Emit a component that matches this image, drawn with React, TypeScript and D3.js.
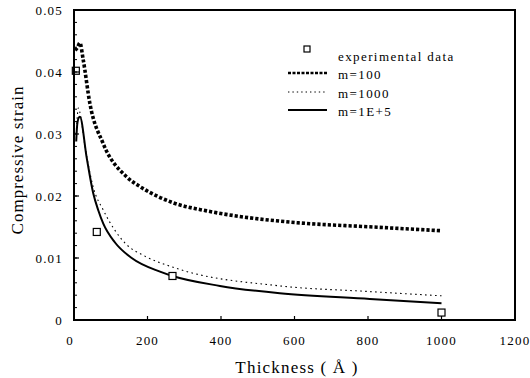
import React from "react";
import * as d3 from "d3";

const expThickness = [5, 62, 268, 1000];
const expStrain = [0.0402, 0.0142, 0.0071, 0.0012];

const m100Thickness = [3, 10, 16, 25, 43, 79, 143, 180, 229, 270, 361, 451, 606, 814, 1000];
const m100Strain = [0.0435, 0.044, 0.0447, 0.042, 0.035, 0.0285, 0.0231, 0.0215, 0.0199, 0.0189, 0.0176, 0.0167, 0.0157, 0.015, 0.0144];

const m1000Thickness = [6, 12, 16, 30, 52, 80, 139, 193, 270, 560, 800, 1000];
const m1000Strain = [0.03, 0.0342, 0.0335, 0.028, 0.0215, 0.0177, 0.0124, 0.0103, 0.0085, 0.0055, 0.0046, 0.0039];

const m1e5Thickness = [6, 8, 12, 16, 34.5, 52.5, 66, 80, 111.5, 157, 234, 268, 397, 560, 805, 1000];
const m1e5Strain = [0.0288, 0.031, 0.0325, 0.0328, 0.0262, 0.0204, 0.0177, 0.0155, 0.0125, 0.01, 0.0078, 0.0071, 0.0055, 0.0043, 0.0034, 0.0027];

const xTicks = [0, 200, 400, 600, 800, 1000, 1200];
const yTicks = [0, 0.01, 0.02, 0.03, 0.04, 0.05];
const yTickLabels = ["0", "0.01", "0.02", "0.03", "0.04", "0.05"];
const yMinorTicks = d3.range(0, 0.0501, 0.002);

const legendLabels = ["experimental data", "m=100", "m=1000", "m=1E+5"];

const FONT = "'Liberation Serif', 'DejaVu Serif', serif";

export default function App() {
  const left = 74, right = 515, top = 10, bottom = 320;
  const x = d3.scaleLinear().domain([0, 1200]).range([left, right]);
  const y = d3.scaleLinear().domain([0, 0.05]).range([bottom, top]);

  const line = d3
    .line<[number, number]>()
    .x((d) => x(d[0]))
    .y((d) => y(d[1]))
    .curve(d3.curveMonotoneX);

  const zip = (a: number[], b: number[]) => a.map((v, i) => [v, b[i]] as [number, number]);

  const legendY = [52, 73, 92, 110];

  return (
    <svg
      width={530}
      height={378}
      style={{ position: "absolute", left: 0, top: 0, background: "#fff" }}
      fontFamily={FONT}
    >
      <rect x={0} y={0} width={530} height={378} fill="#fff" />
      {/* curves */}
      <path d={line(zip(m100Thickness, m100Strain)) || ""} fill="none" stroke="#000" strokeWidth={3.6} strokeDasharray="3.2 2" />
      <path d={line(zip(m1000Thickness, m1000Strain)) || ""} fill="none" stroke="#000" strokeWidth={1.1} strokeDasharray="1.6 3.4" />
      <path d={line(zip(m1e5Thickness, m1e5Strain)) || ""} fill="none" stroke="#000" strokeWidth={2} />
      {/* experimental */}
      {expThickness.map((t, i) => (
        <rect
          key={i}
          x={x(t) - 3.5}
          y={y(expStrain[i]) - 3.5}
          width={7}
          height={7}
          fill="#fff"
          stroke="#000"
          strokeWidth={1.2}
        />
      ))}
      {/* frame */}
      <rect x={left} y={top} width={right - left} height={bottom - top} fill="none" stroke="#000" strokeWidth={2} />
      {/* y ticks */}
      {yMinorTicks.map((v, i) => (
        <line key={"ym" + i} x1={left} x2={left + 3} y1={y(v)} y2={y(v)} stroke="#000" strokeWidth={1} />
      ))}
      {yTicks.map((v, i) => (
        <g key={"yt" + i}>
          <line x1={left} x2={left + 5} y1={y(v)} y2={y(v)} stroke="#000" strokeWidth={1.2} />
          <text
            x={left - 11}
            y={y(v)}
            textAnchor="end"
            dominantBaseline="central"
            fontSize={13}
            letterSpacing={1.2}
            fill="#000"
          >
            {yTickLabels[i]}
          </text>
        </g>
      ))}
      {/* x ticks */}
      {xTicks.map((v, i) => (
        <g key={"xt" + i}>
          {v > 0 && v < 1200 && (
            <line x1={x(v)} x2={x(v)} y1={bottom} y2={bottom - 4} stroke="#000" strokeWidth={1.2} />
          )}
          <text
            x={x(v) + (i === 0 ? -4 : 0)}
            y={340}
            textAnchor="middle"
            dominantBaseline="central"
            fontSize={13}
            letterSpacing={1.2}
            fill="#000"
          >
            {v}
          </text>
        </g>
      ))}
      {/* axis titles */}
      <text x={297} y={367} textAnchor="middle" dominantBaseline="central" fontSize={17} letterSpacing={1.2} fill="#000">
        Thickness ( Å )
      </text>
      <text
        transform={`translate(17,160) rotate(-90)`}
        textAnchor="middle"
        dominantBaseline="central"
        fontSize={17}
        letterSpacing={1}
        fill="#000"
      >
        Compressive strain
      </text>
      {/* legend */}
      <rect x={304} y={legendY[0] - 6} width={6} height={6} fill="#fff" stroke="#000" strokeWidth={1.2} />
      <line x1={288} x2={327} y1={legendY[1]} y2={legendY[1]} stroke="#000" strokeWidth={2.6} strokeDasharray="3 1.5" />
      <line x1={288} x2={327} y1={legendY[2]} y2={legendY[2]} stroke="#000" strokeWidth={1} strokeDasharray="1.4 3" />
      <line x1={288} x2={327} y1={legendY[3]} y2={legendY[3]} stroke="#000" strokeWidth={2} />
      {legendLabels.map((l, i) => (
        <text
          key={"lg" + i}
          x={338}
          y={legendY[i] + (i === 0 ? 4 : 1)}
          dominantBaseline="central"
          fontSize={13}
          letterSpacing={1.4}
          fill="#000"
        >
          {l}
        </text>
      ))}
    </svg>
  );
}
